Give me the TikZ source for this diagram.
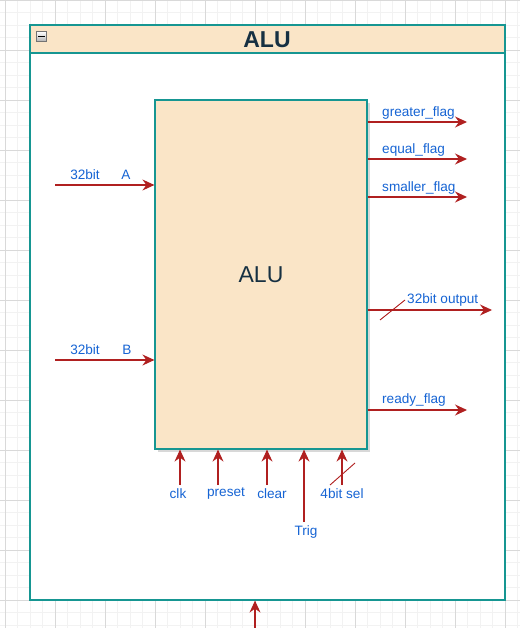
\documentclass[tikz,border=0pt]{standalone}
\usepackage{fontspec}
\setmainfont{Liberation Sans}
\usetikzlibrary{arrows.meta,shadows}
\definecolor{lanefill}{RGB}{250,229,199}
\definecolor{laneline}{RGB}{22,150,146}
\definecolor{wirered}{RGB}{176,32,32}
\definecolor{sigblue}{RGB}{22,100,212}
\definecolor{titleink}{RGB}{22,48,66}

\begin{document}
\begin{tikzpicture}[x=1pt, y=-1pt,
	every node/.style={font=\fontsize{13.6}{15}\selectfont, inner sep=0pt},
	>={Stealth[length=12pt, width=11pt, inset=4pt]},
	lbl/.style={text=sigblue},
	sig/.style={->, draw=wirered, fill=wirered, line width=1.1pt},
	tick/.style={draw=wirered, line width=0.9pt},
	boxline/.style={draw=laneline, line width=1.2pt},
	minorgrid/.style={draw=black!5, line width=0.5pt},
	majorgrid/.style={draw=black!15, line width=0.6pt}]
	\useasboundingbox (0,0) rectangle (520,628);
	\fill[white] (0,0) rectangle (520,628);
	\foreach \x in {5,17.5,...,518} \draw[minorgrid] (\x,0) -- (\x,628);
	\foreach \y in {0,12.5,...,628} \draw[minorgrid] (0,\y) -- (520,\y);
	\foreach \x in {5,55,...,505} \draw[majorgrid] (\x,0) -- (\x,628);
	\foreach \y in {0,50,...,600} \draw[majorgrid] (0,\y) -- (520,\y);

	\node[boxline, fill=white, minimum width=475pt, minimum height=575pt] (lane) at (267.5,312.5) {};
	\node[boxline, fill=lanefill, minimum width=475pt, minimum height=28pt] (head) at (267.5,39) {};
	\node[font=\fontsize{23}{25}\selectfont\bfseries, text=titleink] (title) at (267,40) {ALU};
	\node[draw=black!55, line width=0.6pt, top color=white, bottom color=black!30, minimum size=10pt] (fold) at (41.5,36.5) {};
	\draw[line width=1.4pt] (38,36.5) -- (45,36.5);

	\node[boxline, fill=lanefill, minimum width=212pt, minimum height=349pt,
		drop shadow={shadow xshift=3pt, shadow yshift=-3pt, opacity=0.3},
		font=\fontsize{23}{25}\selectfont, text=titleink] (alu) at (261,274.5) {ALU};

	\coordinate (a in) at (55,185);
	\coordinate (b in) at (55,360);
	\draw[sig] (a in) -- (alu.west |- a in);
	\draw[sig] (b in) -- (alu.west |- b in);
	\node[lbl] (a bits) at (85,175) {32bit};
	\node[lbl] (a name) at (126,175) {A};
	\node[lbl] (b bits) at (85,350) {32bit};
	\node[lbl] (b name) at (127,350) {B};

	\coordinate (greater out) at (467,122);
	\coordinate (equal out) at (467,159);
	\coordinate (smaller out) at (467,197);
	\coordinate (result out) at (492,310);
	\coordinate (ready out) at (467,410);
	\foreach \o in {greater out, equal out, smaller out, result out, ready out}
		\draw[sig] (alu.east |- \o) -- (\o);
	\node[lbl, anchor=west] (greater) at (382,113) {greater\_flag};
	\node[lbl, anchor=west] (equal) at (382,150) {equal\_flag};
	\node[lbl, anchor=west] (smaller) at (382,188) {smaller\_flag};
	\node[lbl, anchor=west] (result) at (407,300) {32bit output};
	\node[lbl, anchor=west] (ready) at (382,400) {ready\_flag};
	\draw[tick] (380,320) -- (405,300);

	\coordinate (clk in) at (180,485);
	\coordinate (preset in) at (218,485);
	\coordinate (clear in) at (267,485);
	\coordinate (trig in) at (304,522);
	\coordinate (sel in) at (342,485);
	\foreach \i in {clk in, preset in, clear in, trig in, sel in}
		\draw[sig] (\i) -- (alu.south -| \i);
	\draw[tick] (330,485) -- (355,463);
	\node[lbl] (clk) at (178,494) {clk};
	\node[lbl] (preset) at (226,494) {preset};
	\node[lbl] (clear) at (272,494) {clear};
	\node[lbl] (sel) at (342,494) {4bit sel};
	\node[lbl] (trig) at (306,532) {Trig};

	\coordinate (lane in) at (255,630);
	\draw[sig] (lane in) -- (lane.south -| lane in);
\end{tikzpicture}
\end{document}
